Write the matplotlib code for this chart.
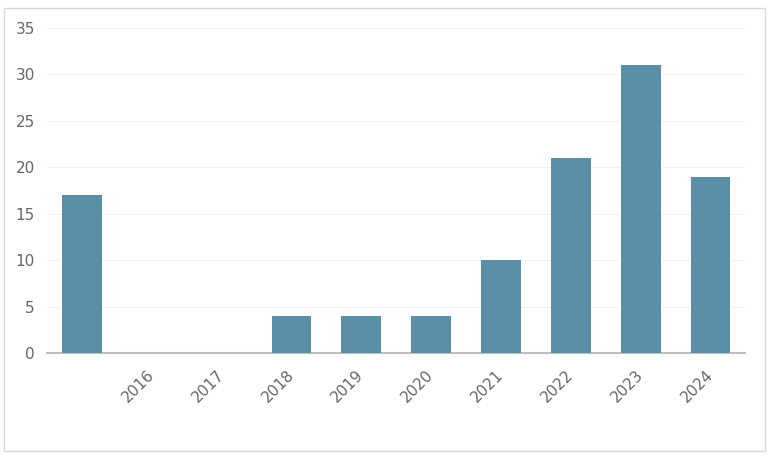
import matplotlib.pyplot as plt
from matplotlib.patches import Rectangle

years = ['', '2016', '2017', '2018', '2019', '2020', '2021', '2022', '2023', '2024']
counts = [17, 0, 0, 4, 4, 4, 10, 21, 31, 19]

fig = plt.figure(figsize=(7.74, 4.59), dpi=100)
ax = fig.add_axes([0.061, 0.231, 0.902, 0.708])

# outer border of the picture
fig.patches.append(Rectangle((0.005, 0.017), 0.984, 0.966, transform=fig.transFigure,
                             fill=False, edgecolor='#d9d9d9', linewidth=1))

x = range(len(years))
ax.bar(x, counts, width=0.57, color='#5b8fa7', zorder=3)

ax.set_xlim(-0.5, len(years) - 0.5)
ax.set_ylim(0, 35)
ax.set_yticks(range(0, 36, 5))
ax.set_xticks(list(x))
ax.set_xticklabels(years, rotation=45, ha='right', va='center', rotation_mode='anchor')
ax.tick_params(axis='x', length=0, pad=14, labelsize=11, labelcolor='#666666')
ax.tick_params(axis='y', length=0, pad=9, labelsize=11, labelcolor='#666666')

ax.grid(axis='y', color='#f2f2f2', linewidth=0.8, zorder=0)
for side in ['top', 'right', 'left']:
    ax.spines[side].set_visible(False)
ax.spines['bottom'].set_color('#bfbfbf')
ax.spines['bottom'].set_linewidth(1.5)

plt.savefig('out.png', dpi=100)
